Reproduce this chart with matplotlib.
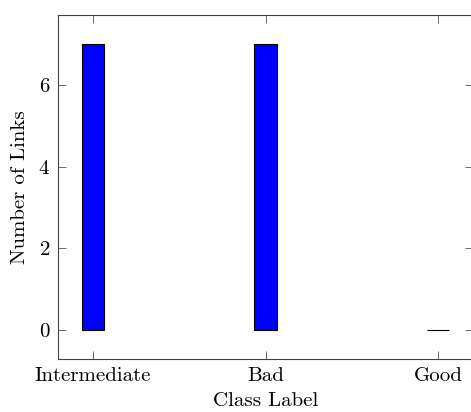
import matplotlib
matplotlib.use("Agg")
import matplotlib.pyplot as plt

plt.rcParams['font.family'] = 'serif'
plt.rcParams['font.serif'] = ['cmr10']
plt.rcParams['mathtext.fontset'] = 'cm'
plt.rcParams['axes.formatter.use_mathtext'] = True

# class labels and link counts
classes = ["Intermediate", "Bad", "Good"]
links = [7, 7, 0]

fig = plt.figure(figsize=(4.71, 4.12), dpi=100)
ax = fig.add_axes([0.1242, 0.1286, 0.879, 0.835])

x = range(len(classes))
ax.bar(x, links, width=0.128, color='#0000ff', edgecolor='black', linewidth=0.8)

# pgfplots-style enlarged limits
ax.set_xlim(-0.2, 2.2)
ax.set_ylim(-0.7, 7.7)
ax.set_xticks(list(x))
ax.set_xticklabels(classes)
ax.set_yticks([0, 2, 4, 6])

ax.tick_params(direction='in', length=6, width=0.6, top=True, right=True,
               labelsize=15, pad=6, color='#555555')
for s in ax.spines.values():
    s.set_linewidth(0.8)
    s.set_color('#444444')

ax.set_xlabel("Class Label", fontsize=15, labelpad=5)
ax.set_ylabel("Number of Links", fontsize=15, labelpad=7)

fig.savefig("out.png", dpi=100)
